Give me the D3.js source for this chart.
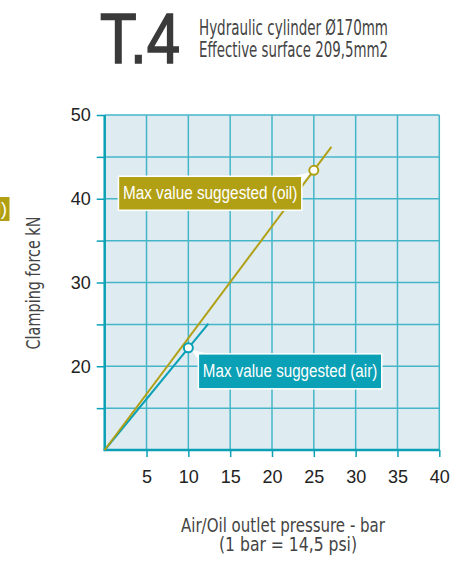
<!DOCTYPE html>
<html>
<head>
<meta charset="utf-8">
<script src="https://cdn.jsdelivr.net/npm/d3@7"></script>
<style>
  body { margin: 0; background: #fff; }
  text { font-family: "Liberation Sans", Arial, sans-serif; }
  .cond { font-family: "DejaVu Sans Condensed", "Liberation Sans Narrow", "DejaVu Sans", sans-serif; }
</style>
</head>
<body>
<div id="root"></div>
<script>
// data
var xTicks = [5, 10, 15, 20, 25, 30, 35, 40];
var yGrid = [15, 20, 25, 30, 35, 40, 45, 50];
var yLabels = [20, 30, 40, 50];
var oilLine = [[0, 10], [27.1, 46.2]];
var airLine = [[0, 10], [12.4, 25.1]];
var oilMax = [25, 43.4];
var airMax = [10, 22.2];
var oilLabel = "Max value suggested (oil)";
var airLabel = "Max value suggested (air)";

var width = 464, height = 563;
var teal = "#0aa0b5", grid = "#45b6c8", olive = "#b1a014", bg = "#deebf1";

var svg = d3.select("#root")
            .append("svg")
            .attr("width", width)
            .attr("height", height);

var x = d3.scaleLinear().domain([0, 40]).range([104.7, 439.3]);
var y = d3.scaleLinear().domain([10, 50]).range([450, 115]);

// title
svg.append("text")
   .attr("x", 100).attr("y", 63)
   .attr("font-size", 70)
   .attr("fill", "#3a3a3a").attr("stroke", "#3a3a3a").attr("stroke-width", 1.6)
   .attr("textLength", 80).attr("lengthAdjust", "spacingAndGlyphs")
   .text("T.4");

svg.append("text").attr("class", "cond")
   .attr("x", 199).attr("y", 35)
   .attr("font-size", 22).attr("fill", "#444")
   .attr("textLength", 189).attr("lengthAdjust", "spacingAndGlyphs")
   .text("Hydraulic cylinder Ø170mm");

svg.append("text").attr("class", "cond")
   .attr("x", 199).attr("y", 56.5)
   .attr("font-size", 22).attr("fill", "#444")
   .attr("textLength", 189).attr("lengthAdjust", "spacingAndGlyphs")
   .text("Effective surface 209,5mm2");

// plot background
svg.append("rect")
   .attr("x", x(0)).attr("y", y(50))
   .attr("width", x(40) - x(0))
   .attr("height", y(10) - y(50))
   .attr("fill", bg);

// grid
svg.append("g").selectAll("line")
   .data(xTicks).enter().append("line")
   .attr("x1", function(d){ return x(d); })
   .attr("x2", function(d){ return x(d); })
   .attr("y1", y(50)).attr("y2", y(10))
   .attr("stroke", grid).attr("stroke-width", 1.5);

svg.append("g").selectAll("line")
   .data(yGrid).enter().append("line")
   .attr("x1", x(0)).attr("x2", x(40))
   .attr("y1", function(d){ return y(d); })
   .attr("y2", function(d){ return y(d); })
   .attr("stroke", grid).attr("stroke-width", 1.5);

// axes
var xAxis = d3.axisBottom(x).tickValues(xTicks).tickSize(7).tickPadding(13);
var yAxis = d3.axisLeft(y).tickValues(yGrid).tickSize(8).tickPadding(6)
              .tickFormat(function(d){ return yLabels.indexOf(d) >= 0 ? d : ""; });

var gx = svg.append("g").attr("transform", "translate(0," + y(10) + ")").call(xAxis);
var gy = svg.append("g").attr("transform", "translate(" + x(0) + ",0)").call(yAxis);

[gx, gy].forEach(function(g){
  g.select(".domain").remove();
  g.selectAll(".tick line").attr("stroke", teal).attr("stroke-width", 1.5);
  g.selectAll(".tick text").attr("fill", "#222").attr("font-size", 18)
   .attr("font-family", "Liberation Sans, Arial, sans-serif");
});

svg.append("line")
   .attr("x1", x(0)).attr("x2", x(0)).attr("y1", y(50)).attr("y2", y(10) + 1)
   .attr("stroke", teal).attr("stroke-width", 2.5);
svg.append("line")
   .attr("x1", x(0) - 1).attr("x2", x(40)).attr("y1", y(10)).attr("y2", y(10))
   .attr("stroke", teal).attr("stroke-width", 2.5);

// series
var line = d3.line().x(function(d){ return x(d[0]); }).y(function(d){ return y(d[1]); });

svg.append("path").attr("d", line(airLine))
   .attr("fill", "none").attr("stroke", teal).attr("stroke-width", 2);
svg.append("path").attr("d", line(oilLine))
   .attr("fill", "none").attr("stroke", olive).attr("stroke-width", 2);

// callouts
function callout(pt, color, label, dx, dy, w, h, side) {
  var mx = x(pt[0]), my = y(pt[1]);
  var bx = side == "left" ? mx - dx - w : mx + dx;
  var by = my + dy;
  var tip = side == "left"
    ? [[mx - 3, my + 2], [bx + w - 10, by], [bx + w, by + 6]]
    : [[mx + 3, my + 2], [bx, by + 6], [bx + 10, by]];
  svg.append("polygon")
     .attr("points", tip.map(function(p){ return p.join(","); }).join(" "))
     .attr("fill", "#fff");
  svg.append("rect")
     .attr("x", bx).attr("y", by).attr("width", w).attr("height", h)
     .attr("fill", color).attr("stroke", "#fff").attr("stroke-width", 1.5);
  svg.append("text")
     .attr("x", bx + 4.5).attr("y", by + 23)
     .attr("font-size", 18).attr("fill", "#fff")
     .attr("textLength", w - 9).attr("lengthAdjust", "spacingAndGlyphs")
     .text(label);
  svg.append("circle")
     .attr("cx", mx).attr("cy", my).attr("r", 4.5)
     .attr("fill", "#fff").attr("stroke", color).attr("stroke-width", 2);
}

callout(oilMax, olive, oilLabel, 12, 6, 183.4, 34, "left");
callout(airMax, teal, airLabel, 10, 6, 183.4, 35, "right");

// cut-off label at the left edge
svg.append("rect")
   .attr("x", -176).attr("y", 197).attr("width", 185.5).attr("height", 24)
   .attr("fill", olive);
svg.append("text")
   .attr("x", 7).attr("y", 215).attr("text-anchor", "end")
   .attr("font-size", 18).attr("fill", "#fff")
   .text(oilLabel);

// axis titles
svg.append("text").attr("class", "cond")
   .attr("transform", "translate(40,283) rotate(-90)")
   .attr("text-anchor", "middle")
   .attr("font-size", 19).attr("fill", "#444")
   .attr("textLength", 133).attr("lengthAdjust", "spacingAndGlyphs")
   .text("Clamping force kN");

svg.append("text").attr("class", "cond")
   .attr("x", 283).attr("y", 532).attr("text-anchor", "middle")
   .attr("font-size", 19).attr("fill", "#444")
   .attr("textLength", 204).attr("lengthAdjust", "spacingAndGlyphs")
   .text("Air/Oil outlet pressure - bar");

svg.append("text").attr("class", "cond")
   .attr("x", 288).attr("y", 551).attr("text-anchor", "middle")
   .attr("font-size", 19).attr("fill", "#444")
   .attr("textLength", 138).attr("lengthAdjust", "spacingAndGlyphs")
   .text("(1 bar = 14,5 psi)");
</script>
</body>
</html>
